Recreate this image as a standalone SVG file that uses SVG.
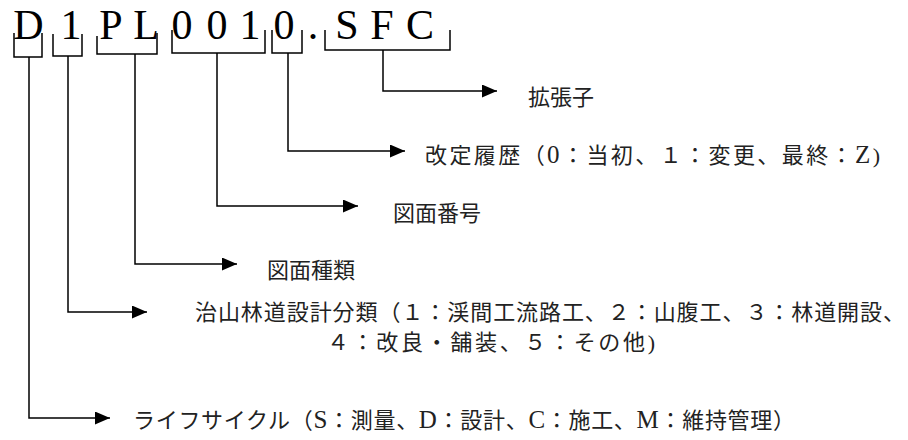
<svg xmlns="http://www.w3.org/2000/svg" width="908" height="440" viewBox="0 0 908 440">
<defs>
<marker id="ah" markerWidth="15" markerHeight="13" refX="15" refY="6.5" orient="auto" markerUnits="userSpaceOnUse">
<path d="M0 0 L15 6.5 L0 13 Z" fill="#000"/>
</marker>
<style>
.big{font-family:"Liberation Serif",serif;font-size:42px;fill:#000;text-anchor:middle}
.br{fill:none;stroke:#000;stroke-width:1.5}
.cn{fill:none;stroke:#000;stroke-width:1.5;marker-end:url(#ah)}
.lb{font-family:"Liberation Serif","Noto Sans CJK JP",serif;font-size:22px;fill:#222}
.la{font-size:25px}
</style>
</defs>
<rect width="908" height="440" fill="#fff"/>
<g id="code">
<text class="big" x="28.5" y="39">D</text>
<text class="big" x="71" y="39">1</text>
<text class="big" x="111" y="39">P</text>
<text class="big" x="146" y="39">L</text>
<text class="big" x="182" y="39">0</text>
<text class="big" x="217" y="39">0</text>
<text class="big" x="250" y="39">1</text>
<text class="big" x="284" y="39">0</text>
<text class="big" x="313" y="39">.</text>
<text class="big" x="347" y="39">S</text>
<text class="big" x="382" y="39">F</text>
<text class="big" x="420" y="39">C</text>
</g>
<g id="brackets">
<path class="br" d="M14 33 V57 H42 V33"/>
<path class="br" d="M53 34 V56 H82 V34"/>
<path class="br" d="M97 36 V54 H157 V33"/>
<path class="br" d="M172 30 V53 H265 V30"/>
<path class="br" d="M272 30 V53 H302 V30"/>
<path class="br" d="M325 30 V50 H450 V30"/>
</g>
<g id="connectors">
<path class="cn" d="M29 57 V418 H110"/>
<path class="cn" d="M68 56 V312 H147"/>
<path class="cn" d="M135 54 V264 H237"/>
<path class="cn" d="M217 53 V206 H358"/>
<path class="cn" d="M288 53 V151 H405"/>
<path class="cn" d="M383 50 V91 H497"/>
</g>
<g id="ext"><text class="lb" x="528" y="105">拡張子</text></g>
<g id="rev"><text class="lb" x="425" y="163" textLength="455" lengthAdjust="spacing">改定履歴（<tspan class="la">0</tspan>：当初、１：変更、最終：<tspan class="la">Z</tspan>)</text></g>
<g id="num"><text class="lb" x="393" y="221">図面番号</text></g>
<g id="kind"><text class="lb" x="267" y="278">図面種類</text></g>
<g id="class">
<text class="lb" x="195" y="320" textLength="710" lengthAdjust="spacing">治山林道設計分類（１：渓間工流路工、２：山腹工、３：林道開設、</text>
<text class="lb" x="327" y="350" textLength="328" lengthAdjust="spacing">４：改良・舗装、５：その他)</text>
</g>
<g id="life"><text class="lb" x="133" y="428" textLength="662" lengthAdjust="spacing">ライフサイクル（<tspan class="la">S</tspan>：測量、<tspan class="la">D</tspan>：設計、<tspan class="la">C</tspan>：施工、<tspan class="la">M</tspan>：維持管理）</text></g>
</svg>
